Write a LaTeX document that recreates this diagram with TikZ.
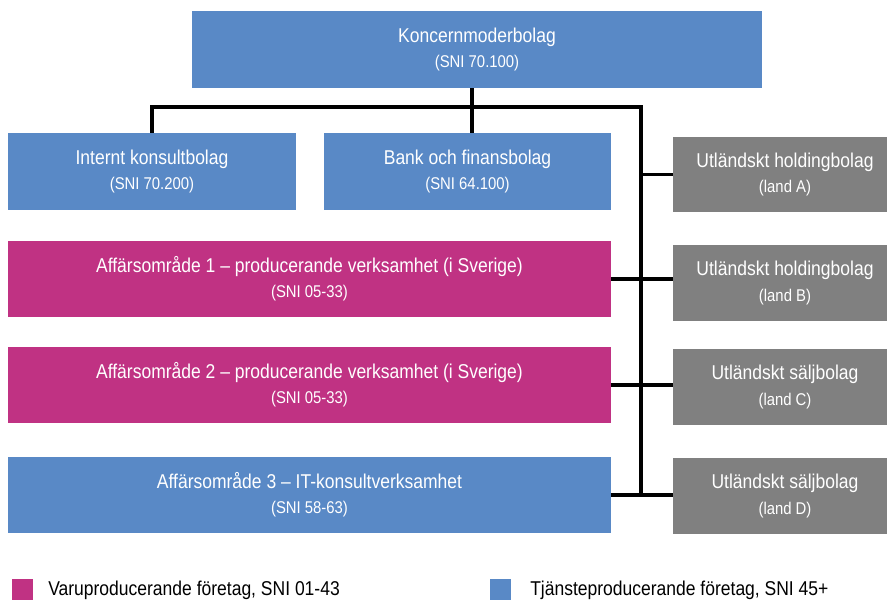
\documentclass[tikz,border=0pt]{standalone}
\usepackage{fontspec}
\setmainfont{Liberation Sans}[FakeStretch=0.875]
\definecolor{tjanstblue}{RGB}{89,137,198}
\definecolor{varumagenta}{RGB}{192,50,131}
\definecolor{utlandgray}{RGB}{128,128,128}
\begin{document}
\begin{tikzpicture}[x=0.75pt,y=-0.75pt,line join=miter,
	bolag/.style={rectangle,text=white,align=center,inner sep=0pt,minimum height=57.5pt,font=\fontsize{15}{19}\selectfont},
	tjanst/.style={bolag,fill=tjanstblue},
	varu/.style={bolag,fill=varumagenta},
	utland/.style={bolag,fill=utlandgray,minimum width=168pt,minimum height=56.5pt},
	linje/.style={draw=black,line width=2.5pt}]
	\useasboundingbox (0,0) rectangle (887,599);
	% Boxes
	\node[tjanst,minimum width=427.5pt] (top) at (477,49.5) {Koncernmoderbolag\\{\fontsize{12.75}{19}\selectfont(SNI 70.100)}};
	\node[tjanst,minimum width=216pt] (intern) at (152,171.5) {Internt konsultbolag\\{\fontsize{12.75}{19}\selectfont(SNI 70.200)}};
	\node[tjanst,minimum width=215.25pt] (bank) at (467.5,171.5) {Bank och finansbolag\\{\fontsize{12.75}{19}\selectfont(SNI 64.100)}};
	\node[varu,minimum width=452.25pt] (aff1) at (309.5,279) {Affärsområde 1 – producerande verksamhet (i Sverige)\\{\fontsize{12.75}{19}\selectfont(SNI 05-33)}};
	\node[varu,minimum width=452.25pt] (aff2) at (309.5,385) {Affärsområde 2 – producerande verksamhet (i Sverige)\\{\fontsize{12.75}{19}\selectfont(SNI 05-33)}};
	\node[tjanst,minimum width=452.25pt] (aff3) at (309.5,495) {Affärsområde 3 – IT-konsultverksamhet\\{\fontsize{12.75}{19}\selectfont(SNI 58-63)}};
	\node[utland] (gA) at (785,174.5) {Utländskt holdingbolag\\{\fontsize{12.75}{19}\selectfont(land A)}};
	\node[utland] (gB) at (785,283) {Utländskt holdingbolag\\{\fontsize{12.75}{19}\selectfont(land B)}};
	\node[utland] (gC) at (785,387) {Utländskt säljbolag\\{\fontsize{12.75}{19}\selectfont(land C)}};
	\node[utland] (gD) at (785,496) {Utländskt säljbolag\\{\fontsize{12.75}{19}\selectfont(land D)}};
	% Lines
	\coordinate (bus) at (641,107);
	\coordinate (trunk) at (472,107);
	\draw[linje] (intern.north) |- (bus) -- (aff3.east -| bus);
	\draw[linje] (top.south -| trunk) -- (bank.north -| trunk);
	\draw[linje] (gA.west) -- (gA.west -| bus);
	\draw[linje] (aff1.east) -- (aff1.east -| gB.west);
	\draw[linje] (aff2.east) -- (aff2.east -| gC.west);
	\draw[linje] (aff3.east) -- (aff3.east -| gD.west);
	% Legend
	\node[fill=varumagenta,minimum size=15.5pt,inner sep=0pt] (lvaru) at (22.5,589.5) {};
	\node[fill=tjanstblue,minimum size=15.5pt,inner sep=0pt] (ltjanst) at (500.5,589.5) {};
	\node[anchor=base west,inner sep=0pt,font=\fontsize{15}{19}\selectfont] (tvaru) at (48,595) {Varuproducerande företag, SNI 01-43};
	\node[anchor=base west,inner sep=0pt,font=\fontsize{15}{19}\selectfont] (ttjanst) at (530,595) {Tjänsteproducerande företag, SNI 45+};
\end{tikzpicture}
\end{document}
